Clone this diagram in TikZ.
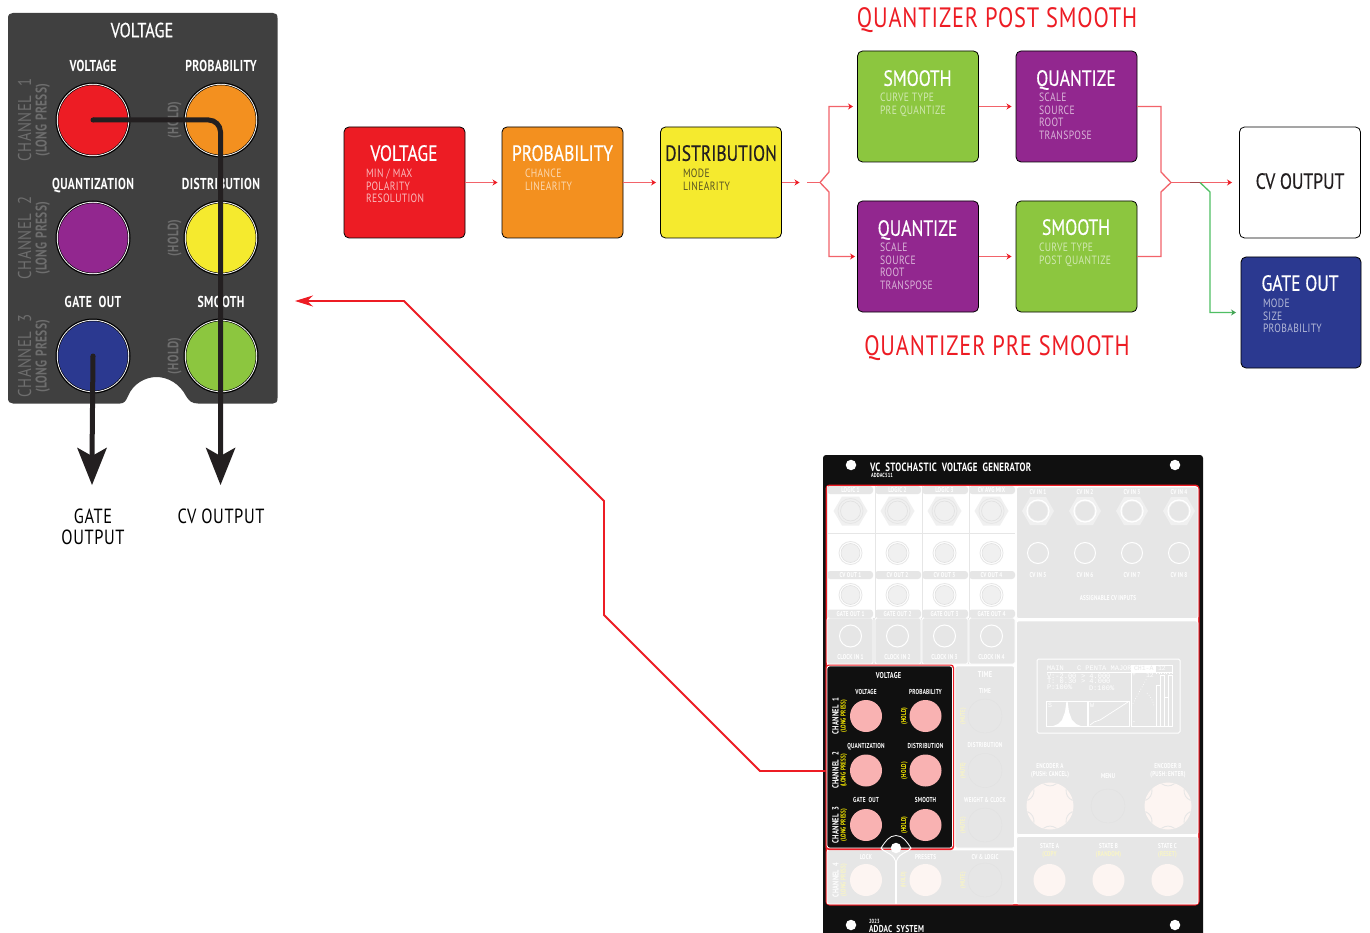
\documentclass[tikz,border=0pt]{standalone}
\usepackage{fontspec}
\setmainfont{PT Sans}[FakeStretch=0.8,LetterSpace=3]
\newfontfamily\titlef{PT Sans}[FakeStretch=0.8,FakeBold=0.4]
\newfontfamily\labf{PT Sans Bold}[FakeStretch=0.74,LetterSpace=2.5]
\newfontfamily\pixf{Liberation Mono}
\usetikzlibrary{arrows.meta,calc}
\definecolor{cred}{HTML}{ED1C24}
\definecolor{corange}{HTML}{F3901F}
\definecolor{cyellow}{HTML}{F5EA2E}
\definecolor{cgreen}{HTML}{8CC63F}
\definecolor{cpurple}{HTML}{92278F}
\definecolor{cnavy}{HTML}{2B3990}
\definecolor{cpanel}{HTML}{404040}
\definecolor{cfaint}{HTML}{6E6E6E}
\definecolor{cline}{HTML}{231F20}
\definecolor{wire}{HTML}{F2636A}
\definecolor{cgate}{HTML}{4FBF63}
\definecolor{mgrey}{HTML}{E6E6E6}
\definecolor{mring}{HTML}{E0E0E0}
\definecolor{mblack}{HTML}{101010}
\definecolor{mpink}{HTML}{F9B2B2}
\definecolor{mpale}{HTML}{FDF5F2}
\definecolor{myel}{HTML}{FAF6C4}
\definecolor{mhex}{HTML}{F0F0F0}
\tikzset{
  x=1pt,y=-1pt,
  lab/.style={font=\fontsize{#1}{#1}\selectfont,inner sep=0pt,outer sep=0pt,text depth=0pt},
  panellab/.style={font=\labf\fontsize{#1}{#1}\selectfont,inner sep=0pt,outer sep=0pt,text depth=0pt},
  boxtitle/.style={font=\titlef\fontsize{22}{22}\selectfont,inner sep=0pt,outer sep=0pt,text depth=0pt},
  blockbox/.style={draw=black,line width=0.8pt,rounded corners=5pt,minimum width=121pt,minimum height=111pt,inner sep=0pt,outer sep=0pt},
  boxsub/.style={font=\fontsize{12}{12.4}\selectfont,inner sep=0pt,outer sep=0pt,anchor=north west,align=left},
  wireline/.style={draw=wire,line width=1.3pt},
  wirearrow/.style={wireline,-{Stealth[length=5pt,width=6pt,color=cred]},shorten >=4.5pt},
  gatearrow/.style={draw=cgate,line width=1.3pt,-{Stealth[length=5pt,width=6pt,color=cgate!85!black]},shorten >=5pt},
  thick line/.style={draw=cline,line width=5pt,line cap=round},
  mlab/.style={font=\labf\fontsize{#1}{#1}\selectfont,inner sep=0pt,outer sep=0pt,text=white,text depth=0pt},
  pix/.style={font=\pixf\fontsize{#1}{#1}\selectfont,inner sep=0pt,outer sep=0pt,text=white,anchor=west},
  knob/.style={circle,inner sep=0pt,outer sep=0pt,minimum size=70pt,draw=black,line width=0.5pt},
  cellg/.style={fill=mgrey,draw=white,line width=0.8pt,rounded corners=2pt},
}
\begin{document}
\begin{tikzpicture}
\useasboundingbox (0,0) rectangle (1370,933);
\fill[white] (0,0) rectangle (1370,933);

%% ---------- upper-left panel
\fill[cpanel] (13,13) -- (273,13) .. controls (276,13) and (277.5,14.5) .. (277.5,18) -- (277.5,398) .. controls (277.5,402) and (276,403.5) .. (273,403.5)
  -- (198,403.5) .. controls (192,403.5) and (189,401) .. (186,396) .. controls (180,384) and (168,377) .. (156.5,377) .. controls (145,377) and (133,384) .. (128,396) .. controls (126,401) and (124,403.5) .. (120,403.5)
  -- (13,403.5) .. controls (10,403.5) and (8,402) .. (8,398) -- (8,18) .. controls (8,14.5) and (10,13) .. (13,13) -- cycle;
\node[boxtitle,font=\titlef\fontsize{20.5}{20.5}\selectfont,text=white] (ptitle) at (142,30) {VOLTAGE};
\foreach \n/\x/\y/\t in {a/93/66/VOLTAGE,b/221/66/PROBABILITY,c/93/184/QUANTIZATION,d/221/184/DISTRIBUTION,e/93/302/GATE\ \ OUT,f/221/302/SMOOTH}
  \node[panellab=15.8,text=white] (pl\n) at (\x,\y) {\t};
\foreach \n/\y/\c in {1/120/1,2/238/2,3/356/3}{
  \node[lab=18.5,text=cfaint,rotate=90] (pch\n) at (24.5,\y) {CHANNEL\ \ \c};
  \node[panellab=15.5,text=cfaint,rotate=90] (plp\n) at (41,\y) {(LONG PRESS)};
  \node[panellab=15,text=cfaint,rotate=90] (phd\n) at (173,\y) {(HOLD)};
}
\foreach \n/\x/\y/\c in {ka/93/120/cred,kb/221/120/corange,kc/93/238/cpurple,kd/221/238/cyellow,ke/93/356/cnavy,kf/221/356/cgreen}{
  \fill[black] (\x,\y) circle (37.5pt);
  \fill[white] (\x,\y) circle (36.2pt);
  \node[knob,fill=\c] (\n) at (\x,\y) {};
}
\coordinate (cvend) at (220.5,485);
\coordinate (gateend) at (92,485);
\draw[thick line,rounded corners=12pt,line cap=butt] (ka.center) -- (kb.center -| cvend) -- (220.5,460);
\fill[cline] (ka.center) circle (2.5pt);
\fill[cline] (ke.center) circle (2.5pt);
\draw[draw=cline,line width=5pt] (ke.center) -- (92,460);
\fill[cline] (cvend) -- (205.7,447.5) -- (220.5,456) -- (235.5,447.5) -- cycle;
\fill[cline] (gateend) -- (77,447.5) -- (92,456) -- (107,447.5) -- cycle;
\node[inner sep=0pt,outer sep=0pt,text=black,align=center,font=\fontsize{20.5}{21}\selectfont] (gatelab) at (93,527) {GATE\\OUTPUT};
\node[lab=20.5,text=black] (cvlab) at (221,516.5) {CV OUTPUT};

%% ---------- flow diagram
\node[lab=28,text=cred] (hpost) at (997,18) {QUANTIZER POST SMOOTH};
\node[lab=28,text=cred] (hpre) at (997,346) {QUANTIZER PRE SMOOTH};
\node[blockbox,fill=cred] (bvol) at (404.5,182.5) {};
\node[blockbox,fill=corange] (bprob) at (562.5,182.5) {};
\node[blockbox,fill=cyellow] (bdist) at (721,182.5) {};
\node[blockbox,fill=cgreen] (bs1) at (918,106.5) {};
\node[blockbox,fill=cpurple] (bq1) at (1076.5,106.5) {};
\node[blockbox,fill=cpurple] (bq2) at (918,256.5) {};
\node[blockbox,fill=cgreen] (bs2) at (1076.5,256.5) {};
\node[blockbox,fill=white] (bcv) at (1300,182.5) {};
\node[blockbox,fill=cnavy,minimum width=120pt] (bgate) at (1301,312.5) {};

\node[boxtitle,text=white] (tvol) at (404,153) {VOLTAGE};
\node[boxsub,text=white!70!cred] (svol) at (366,169.3) {MIN / MAX\\POLARITY\\RESOLUTION};
\node[boxtitle,text=white] (tprob) at (562.5,153) {PROBABILITY};
\node[boxsub,text=white!65!corange] (sprob) at (525,169.3) {CHANCE\\LINEARITY};
\node[boxtitle,text=cline] (tdist) at (721,153) {DISTRIBUTION};
\node[boxsub,text=cline!75!cyellow] (sdist) at (683,169.3) {MODE\\LINEARITY};
\node[boxtitle,text=white] (ts1) at (917.5,78) {SMOOTH};
\node[boxsub,text=white!60!cgreen] (ss1) at (880,93.3) {CURVE TYPE\\PRE QUANTIZE};
\node[boxtitle,text=white] (tq1) at (1076,78) {QUANTIZE};
\node[boxsub,text=white!65!cpurple] (sq1) at (1039,93.3) {SCALE\\SOURCE\\ROOT\\TRANSPOSE};
\node[boxtitle,text=white] (tq2) at (917.5,228) {QUANTIZE};
\node[boxsub,text=white!65!cpurple] (sq2) at (880,243.3) {SCALE\\SOURCE\\ROOT\\TRANSPOSE};
\node[boxtitle,text=white] (ts2) at (1076,227) {SMOOTH};
\node[boxsub,text=white!60!cgreen] (ss2) at (1039,243.3) {CURVE TYPE\\POST QUANTIZE};
\node[boxtitle,text=cline] (tcv) at (1300,181) {CV OUTPUT};
\node[boxtitle,text=white] (tgate) at (1300,283) {GATE OUT};
\node[boxsub,text=white!65!cnavy] (sgate) at (1263,299.3) {MODE\\SIZE\\PROBABILITY};

\coordinate (splitin) at (807,182.5);
\coordinate (split) at (820,182.5);
\coordinate (merge) at (1171,182.5);
\coordinate (gtap) at (1200,182.5);
\draw[wirearrow] (bvol.east) -- (bprob.west);
\draw[wirearrow] (bprob.east) -- (bdist.west);
\draw[wirearrow,shorten >=0pt] (bdist.east) -- (799.5,182.5);
\draw[wireline] (splitin) -- (split);
\draw[wirearrow] (split) -- (829,172) -- (829,106.5) -- (bs1.west);
\draw[wirearrow,shorten >=2.5pt] (split) -- (829,192) -- (829,256.5) -- (bq2.west);
\draw[wirearrow] (bs1.east) -- (bq1.west);
\draw[wirearrow] (bq2.east) -- (bs2.west);
\draw[wireline] (bq1.east) -- (1161,106.5) -- (1161,172) -- (merge);
\draw[wireline] (bs2.east) -- (1161,256.5) -- (1161,192) -- (merge);
\draw[wirearrow,shorten >=7.5pt] (merge) -- (bcv.west);
\draw[gatearrow] (gtap) -- (1210,192) -- (1210,312.5) -- (bgate.west);
\draw[draw=cline!40!wire,line width=1.2pt] (1190,182.5) -- (gtap);

%% ---------- module
\fill[mblack,rounded corners=3pt] (823,455) -- (1203,455) -- (1203,940) -- (823,940) -- cycle;
\foreach \n/\x/\y in {ha/851/465,hb/1175/465,hc/851/925,hd/1175/925}
  \node[circle,fill=white,minimum size=10.5pt,inner sep=0pt] (\n) at (\x,\y) {};
\node[mlab=12,anchor=west] (mtitle) at (870,467) {VC\ \ STOCHASTIC\ \ VOLTAGE\ \ GENERATOR};
\node[mlab=6,anchor=west] (msub) at (871,475.5) {ADDAC511};
\node[mlab=6,anchor=west] (myear) at (869,921) {2023};
\node[mlab=10,anchor=west] (mbrand) at (869,929) {ADDAC\ \ SYSTEM};
% red outline and interior
\fill[cred,rounded corners=4pt] (825.5,484.5) rectangle (1199.5,905.5);
\fill[white,rounded corners=3pt] (827,486) rectangle (1198,904);
% left jack area
\fill[mgrey,rounded corners=2pt] (827,618) rectangle (1015,664);
\foreach \n/\x in {1/827,2/875,3/922,4/969}{
  \draw[draw=mgrey,line width=1pt] (\x,486) -- (\x,618);
  \draw[white,line width=0.8pt,rounded corners=2pt] (\x,618) rectangle (\x+46,664);
}
\foreach \y in {532.5}
  \fill[mgrey] (827,\y) rectangle (1015,\y+1.2);
\foreach \x/\n in {827/1,875/2,922/3,969/4}{
  \fill[mgrey,rounded corners=3pt] (\x,486) rectangle (\x+46,494);
  \fill[mgrey,rounded corners=3pt] (\x,571) rectangle (\x+46,579);
  \fill[mgrey,rounded corners=3pt] (\x,609.5) rectangle (\x+46,618);
}
\foreach \n/\x/\a/\b/\c/\d in {1/850.5/LOGIC\ 1/CV\ OUT\ 1/GATE\ OUT\ 1/CLOCK\ IN\ 1,2/897.5/LOGIC\ 2/CV\ OUT\ 2/GATE\ OUT\ 2/CLOCK\ IN\ 2,3/944.5/LOGIC\ 3/CV\ OUT\ 3/GATE\ OUT\ 3/CLOCK\ IN\ 3,4/991.5/CV\ AVG\ MIX/CV\ OUT\ 4/GATE\ OUT\ 4/CLOCK\ IN\ 4}{
  \node[mlab=7] (la\n) at (\x,490) {\a};
  \node[mlab=7] (lb\n) at (\x,575) {\b};
  \node[mlab=7] (lc\n) at (\x,614) {\c};
  \node[mlab=7] (ld\n) at (\x,657) {\d};
  \fill[mhex] (\x-17,511) -- (\x-8.5,496.5) -- (\x+8.5,496.5) -- (\x+17,511) -- (\x+8.5,525.5) -- (\x-8.5,525.5) -- cycle;
  \draw[mgrey,line width=0.8pt,fill=mhex] (\x,511) circle (12.5pt);
  \draw[mring,line width=0.6pt,fill=mhex] (\x,511) circle (10pt);
  \foreach \yy in {553,595}{
    \draw[mgrey,line width=0.8pt,fill=white] (\x,\yy) circle (11.5pt);
    \draw[mring,line width=0.6pt,fill=mhex] (\x,\yy) circle (9.5pt);
  }
  \draw[white,line width=1pt] (\x,636) circle (11pt);
}
% right panels
\draw[cellg] (1016.5,487) rectangle (1198,618.5);
\draw[cellg] (1016.5,621) rectangle (1198,834.5);
\draw[cellg] (1016.5,836.5) rectangle (1198,904);
\draw[cellg] (955,666) rectangle (1014.5,848);
\draw[cellg] (827,850) rectangle (1014.5,904);
\foreach \n/\x/\a/\b in {1/1038/1/5,2/1085/2/6,3/1132/3/7,4/1179/4/8}{
  \node[mlab=7] (ci\n) at (\x,492) {CV IN \a};
  \node[mlab=7] (cj\n) at (\x,575) {CV IN \b};
  \fill[mhex] (\x-16,511) -- (\x-8,497) -- (\x+8,497) -- (\x+16,511) -- (\x+8,525) -- (\x-8,525) -- cycle;
  \draw[white,line width=1.2pt] (\x,511) circle (11pt);
  \fill[mgrey] (\x,511) circle (9.5pt);
  \draw[white,line width=1pt] (\x,553) circle (10.5pt);
}
\node[mlab=7] (assign) at (1108,598) {ASSIGNABLE CV INPUTS};
% display
\draw[white,line width=1pt,rounded corners=1.5pt] (1037,659) rectangle (1180,733);
\node[pix=7] (dmain) at (1047,668.5) {MAIN};
\node[pix=7] (dscale) at (1077,668.5) {C PENTA MAJOR};
\fill[white] (1131,665) rectangle (1155,672);
\node[pix=6.5,text=mgrey] (dch) at (1134,668.5) {CH1-A};
\node[pix=6.5] (d2) at (1158,668.5) {12};
\draw[white,line width=0.6pt] (1155,665) rectangle (1172,672);
\draw[white,line width=0.6pt] (1047,672.5) -- (1172,672.5);
\node[pix=7] (dv) at (1047,676) {V:-2.00};
\node[pix=7] (dva) at (1081,676) {> 4.000};
\node[pix=7] (dt) at (1047,681.5) {T: 0.30};
\node[pix=7] (dta) at (1081,681.5) {> 4.000};
\node[pix=7] (dp) at (1047,687.5) {P:100\%};
\node[pix=7] (dd) at (1089,688) {D:100\%};
\draw[white,line width=0.7pt] (1046.5,701) rectangle (1087,726.5);
\draw[white,line width=0.7pt] (1088.5,701) rectangle (1129,726.5);
\node[pix=6.5] (dS) at (1048,705) {S};
\node[pix=6.5] (dW) at (1090,705) {W};
\fill[white] (1052,726.5) -- (1058,724) -- (1062,720) -- (1065,712) -- (1066.5,701) -- (1067.5,701) -- (1069,712) -- (1072,720) -- (1076,724) -- (1082,726.5) -- cycle;
\draw[white,line width=0.7pt] (1090,725) -- (1094,722) -- (1100,720) -- (1128,702);
\draw[white,line width=0.7pt] (1131,673) -- (1131,726.5) -- (1172,726.5);
\node[pix=6.5] (dplus) at (1132,675) {+};
\node[pix=6.5] (d12) at (1146,675.5) {12};
\node[pix=6.5] (dminus) at (1132,723) {-};
\draw[white,line width=0.7pt,dotted] (1131.5,706) -- (1147,678);
\draw[white,line width=0.7pt,dotted] (1147,693) .. controls (1150,696) and (1153,700) .. (1154,706);
\foreach \x/\y in {1156/685,1160/675,1164/697,1168/675}
  \draw[white,line width=0.6pt] (\x,\y) rectangle (\x+4,726.5);
\draw[white,line width=0.6pt,dotted] (1156,673.5) -- (1172,673.5);
% encoders
\foreach \n/\x in {a/1050,b/1168}{
  \fill[mpale] (\x,806) circle (23.5pt);
  \foreach \ang in {30,90,150,210,270,330}
    \draw[mgrey,line width=0.9pt] ($(\x,806)+(\ang-16:23.2)$) .. controls ($(\x,806)+(\ang-7:19.5)$) and ($(\x,806)+(\ang+7:19.5)$) .. ($(\x,806)+(\ang+16:23.2)$);
}
\draw[mring,line width=0.3pt] (1108,806) circle (17pt);
\node[font=\labf\fontsize{7}{7.5}\selectfont,inner sep=0pt,text=white,align=center] (enca) at (1050,771) {ENCODER A\\(PUSH: CANCEL)};
\node[font=\labf\fontsize{7}{7.5}\selectfont,inner sep=0pt,text=white,align=center] (encb) at (1168,771) {ENCODER B\\(PUSH: ENTER)};
\node[mlab=7] (menu) at (1108,776) {MENU};
\foreach \n/\x/\a/\b in {a/1049.5/STATE\ A/(COPY/PASTE),b/1108.5/STATE\ B/(RANDOM),c/1167.5/STATE\ C/(RESET)}{
  \fill[mpale] (\x,880) circle (16pt);
  \node[mlab=7] (st\n) at (\x,846) {\a};
  \node[mlab=7,text=myel] (su\n) at (\x,853.5) {\b};
}
% middle column
\node[mlab=8.5] (mtime) at (985,675) {TIME};
\foreach \n/\y/\t/\k in {a/691/TIME/716,b/745/DISTRIBUTION/770.5,c/800/WEIGHT\ \&\ CLOCK/825}{
  \node[mlab=7] (mm\n) at (985,\y) {\t};
  \draw[mring,line width=0.3pt] (985,\k) circle (17pt);
  \node[mlab=6.5,text=myel,rotate=90] (mu\n) at (962.5,\k) {(MUTE)};
}
% bottom row
\node[mlab=7] (mlock) at (866,856.5) {LOCK};
\node[mlab=7] (mpres) at (925.5,856.5) {PRESETS};
\node[mlab=7] (mcvl) at (985,856.5) {CV \& LOGIC};
\fill[mpale] (866,880) circle (16pt);
\fill[mpale] (925.5,880) circle (16pt);
\draw[mring,line width=0.3pt] (985,880) circle (17pt);
\node[mlab=8.5,rotate=90] (c4) at (835.5,880) {CHANNEL\ \ 4};
\node[mlab=7,text=myel,rotate=90] (c4l) at (843,880) {(LONG PRESS)};
\node[mlab=6.5,text=myel,rotate=90] (c4h) at (903,880) {(HOLD)};
\node[mlab=6.5,text=myel,rotate=90] (c4m) at (962.5,880) {(MUTE)};
% selected block
\fill[cred,rounded corners=3pt] (825.5,664.5) rectangle (954,850);
\fill[mblack,rounded corners=2.5pt,draw=white,line width=0.8pt] (827,666) rectangle (952.5,848);
\fill[white] (895,862) rectangle (897,904);
\fill[mgrey] (884,849.5) rectangle (908,852);
\fill[mblack,draw=white,line width=0.8pt] (881,848) .. controls (885,842) and (889,835.5) .. (896,835.5) .. controls (903,835.5) and (907,842) .. (911,848) -- cycle;
\draw[white,line width=1pt] (881,848) .. controls (884,853) and (896,853) .. (896,865);
\draw[white,line width=1pt] (911,848) .. controls (908,853) and (896,853) .. (896,865);
\node[circle,fill=white,minimum size=10.5pt,inner sep=0pt] (hmid) at (896,848) {};
\node[mlab=8.5] (stitle) at (888.5,675) {VOLTAGE};
\foreach \n/\x/\y/\t in {a/866/691.5/VOLTAGE,b/925.5/691.5/PROBABILITY,c/866/745.5/QUANTIZATION,d/925.5/745.5/DISTRIBUTION,e/866/800/GATE\ \ OUT,f/925.5/800/SMOOTH}
  \node[mlab=7.2] (sl\n) at (\x,\y) {\t};
\foreach \n/\y/\c in {1/716/1,2/770.5/2,3/825/3}{
  \node[mlab=9,rotate=90] (sch\n) at (835.5,\y) {CHANNEL\ \ \c};
  \node[mlab=7,text=yellow,rotate=90] (slp\n) at (843,\y) {(LONG PRESS)};
  \node[mlab=7,text=yellow,rotate=90] (shd\n) at (903.5,\y) {(HOLD)};
}
\foreach \n/\x/\y in {a/866/716,b/925.5/716,c/866/770.5,d/925.5/770.5,e/866/825,f/925.5/825}
  \node[circle,fill=mpink,minimum size=32pt,inner sep=0pt,outer sep=0pt] (sk\n) at (\x,\y) {};

%% ---------- long red pointer
\coordinate (ptrtip) at (295,301);
\draw[draw=cred,line width=1.8pt,-{Stealth[length=18pt,width=11pt]}] (825.5,771) -- (760,771) -- (604,615) -- (604,501) -- (404,301) -- (ptrtip);
\end{tikzpicture}
\end{document}
